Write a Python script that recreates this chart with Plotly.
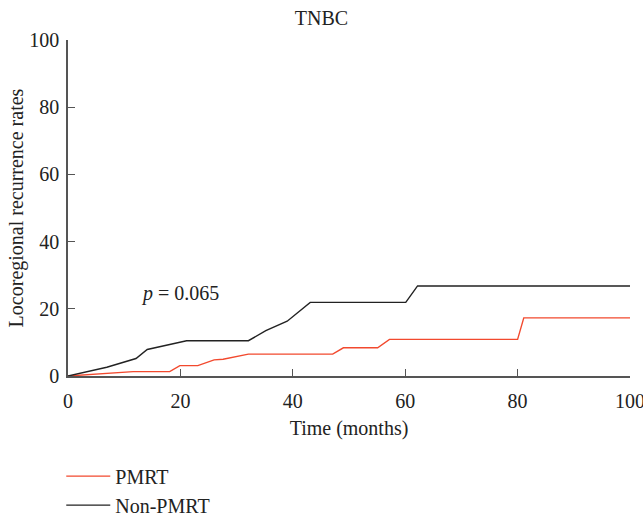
import plotly.graph_objects as go

# Data (months, rate %)
pmrt_t = [0, 11.6, 18.1, 19.9, 23.1, 26.0, 27.6, 32.1, 47.1, 49.0, 55.1, 57.2, 80.0, 81.1, 100]
pmrt_v = [0, 1.3, 1.3, 3.1, 3.1, 4.8, 5.0, 6.5, 6.5, 8.4, 8.4, 10.9, 10.9, 17.3, 17.3]
non_t = [0, 6.9, 12.1, 14.1, 21.1, 32.1, 35.2, 39.0, 43.1, 60.1, 62.2, 100]
non_v = [0, 2.6, 5.2, 7.9, 10.5, 10.5, 13.5, 16.3, 21.9, 21.9, 26.8, 26.8]
x_ticks = [0, 20, 40, 60, 80, 100]
y_ticks = [0, 20, 40, 60, 80, 100]

FONT = "Liberation Serif"
AXC = "#555555"
FS = 20

fig = go.Figure()
fig.add_trace(go.Scatter(x=pmrt_t, y=pmrt_v, mode="lines", name="PMRT",
                         line=dict(color="#f2492e", width=1.4)))
fig.add_trace(go.Scatter(x=non_t, y=non_v, mode="lines", name="Non-PMRT",
                         line=dict(color="#222222", width=1.4)))

fig.add_annotation(x=20, y=24.7, xref="x", yref="y",
                   text="<i>p</i> = 0.065", showarrow=False,
                   font=dict(family=FONT, size=FS, color="#222"))

fig.update_layout(
    width=643, height=517,
    margin=dict(l=68, r=13, t=40, b=141, autoexpand=False),
    paper_bgcolor="white", plot_bgcolor="white",
    font=dict(family=FONT, size=FS, color="#222"),
    title=dict(text="TNBC", x=0.5, xanchor="center", y=0.965, yanchor="middle",
               font=dict(family=FONT, size=FS, color="#222")),
    showlegend=True,
    legend=dict(x=-0.012, y=-0.24, xanchor="left", yanchor="top",
                font=dict(family=FONT, size=FS, color="#222"),
                bgcolor="rgba(0,0,0,0)", tracegroupgap=0, itemwidth=44),
    xaxis=dict(range=[0, 100], tickvals=x_ticks, ticks="inside", ticklen=7,
               tickcolor=AXC, showline=True, linecolor=AXC, linewidth=1.5,
               showgrid=False, zeroline=False, automargin=False,
               ticklabeloverflow="allow", ticklabelstandoff=6,
               title=dict(text="Time (months)", standoff=10,
                          font=dict(family=FONT, size=FS)),
               tickfont=dict(family=FONT, size=FS)),
    yaxis=dict(range=[0, 100], tickvals=y_ticks, ticks="inside", ticklen=7,
               tickcolor=AXC, showline=True, linecolor=AXC, linewidth=1.5,
               showgrid=False, zeroline=False, automargin=False,
               ticklabeloverflow="allow", ticklabelstandoff=3,
               title=dict(text="Locoregional recurrence rates", standoff=0,
                          font=dict(family=FONT, size=FS)),
               tickfont=dict(family=FONT, size=FS)),
)

fig.write_html("out.html")
